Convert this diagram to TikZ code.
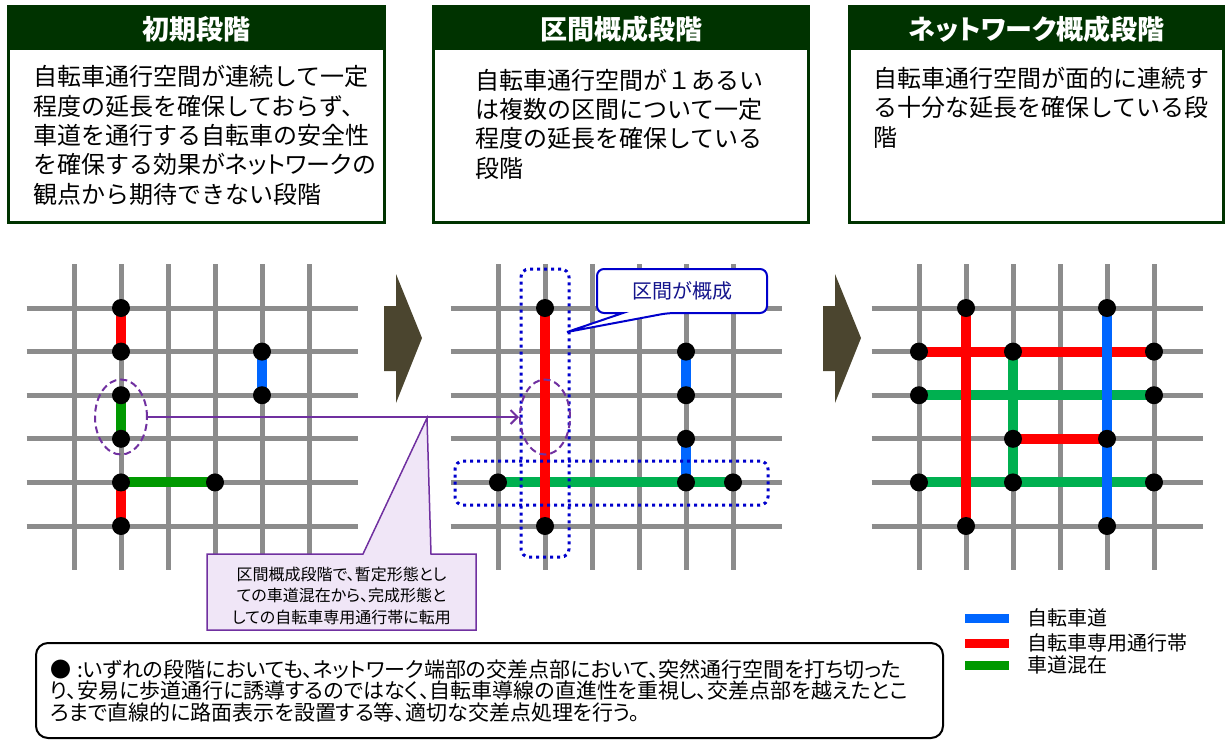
\documentclass[tikz,border=0pt]{standalone}
\usepackage{fontspec}
\setmainfont{Noto Sans CJK JP}
\usetikzlibrary{arrows.meta,shapes.geometric}
\definecolor{hdr}{RGB}{0,51,0}
\definecolor{gridgray}{RGB}{140,140,140}
\definecolor{rd}{RGB}{255,0,0}
\definecolor{bl}{RGB}{0,102,255}
\definecolor{gnA}{RGB}{0,153,0}
\definecolor{gnB}{RGB}{0,176,80}
\definecolor{pur}{RGB}{112,48,160}
\definecolor{lav}{RGB}{240,230,247}
\definecolor{dblue}{RGB}{0,0,204}
\definecolor{navytext}{RGB}{20,20,140}
\definecolor{olive}{RGB}{75,69,47}
\newcommand\pk[1]{{\addfontfeature{RawFeature=+palt}#1}}
\begin{document}
\begin{tikzpicture}[x=1pt,y=-1pt,
  gridline/.style={draw=gridgray, line width=5pt},
  seg/.style={line width=10pt},
  dot/.style={fill=black},
  titletext/.style={text=white, inner sep=0pt, font=\fontsize{27}{30}\selectfont\bfseries},
  bodytext/.style={anchor=base west, align=left, inner sep=0pt, font=\fontsize{24}{29.3}\selectfont},
  dashell/.style={ellipse, draw=pur, line width=2pt, dash pattern=on 7pt off 4pt, inner sep=0pt},
  dotbox/.style={draw=dblue, line width=3pt, dash pattern=on 3pt off 4pt, rounded corners=8pt, inner sep=0pt},
  bigarrow/.style={fill=olive},
  legtext/.style={anchor=west, inner sep=0pt, font=\fontsize{20}{22}\selectfont}
]
\useasboundingbox (0,0) rectangle (1227,740);

% ---------- stage boxes ----------
\fill[hdr] (7,5) rectangle (386,224);
\fill[white] (10,50) rectangle (383,221);
\node[titletext] (t1) at (196.5,29) {初期段階};
\node[bodytext] (b1) at (33,203) {自転車通行空間が連続して一定\\程度の延長を確保しておらず、\\車道を通行する自転車の安全性\\を確保する効果が\pk{ネットワーク}の\\観点から期待できない段階};

\fill[hdr] (432,5) rectangle (810,224);
\fill[white] (435,50) rectangle (807,221);
\node[titletext] (t2) at (621,29) {区間概成段階};
\node[bodytext] (b2) at (475,177) {自転車通行空間が１あるい\\は複数の区間について一定\\程度の延長を確保している\\段階};

\fill[hdr] (848,5) rectangle (1225,224);
\fill[white] (851,50) rectangle (1222,221);
\node[titletext] (t3) at (1036.5,29) {\pk{ネットワーク}概成段階};
\node[bodytext] (b3) at (873,146) {自転車通行空間が面的に連続す\\る十分な延長を確保している段\\階};

% ---------- grids ----------
\foreach \g/\xo in {1/74,2/498,3/919}{
  \foreach \i in {0,...,5}{
    \draw[gridline] ({\xo+47*\i},264) -- ({\xo+47*\i},570);
    \draw[gridline] ({\xo-47.5},{308+43.6*\i}) -- ({\xo+283.5},{308+43.6*\i});
    \foreach \j in {0,...,5}{
      \coordinate (g\g-\i-\j) at ({\xo+47*\i},{308+43.6*\j});
    }
  }
}

% grid 1 (initial stage)
\draw[seg, rd] (g1-1-0) -- (g1-1-1);
\draw[seg, bl] (g1-4-1) -- (g1-4-2);
\draw[seg, gnA] (g1-1-2) -- (g1-1-3);
\draw[seg, gnA] (g1-1-4) -- (g1-3-4);
\draw[seg, rd] (g1-1-4) -- (g1-1-5);
\foreach \p in {g1-1-0,g1-1-1,g1-4-1,g1-4-2,g1-1-2,g1-1-3,g1-1-4,g1-3-4,g1-1-5}
  \fill[dot] (\p) circle[radius=9pt];

% grid 2 (section stage)
\draw[seg, gnB] (g2-0-4) -- (g2-5-4);
\draw[seg, bl] (g2-4-1) -- (g2-4-2);
\draw[seg, bl] (g2-4-3) -- (g2-4-4);
\draw[seg, rd] (g2-1-0) -- (g2-1-5);
\foreach \p in {g2-1-0,g2-1-5,g2-4-1,g2-4-2,g2-4-3,g2-4-4,g2-0-4,g2-5-4}
  \fill[dot] (\p) circle[radius=9pt];

% grid 3 (network stage)
\draw[seg, gnB] (g3-0-2) -- (g3-5-2);
\draw[seg, gnB] (g3-0-4) -- (g3-5-4);
\draw[seg, gnB] (g3-2-1) -- (g3-2-4);
\draw[seg, rd] (g3-0-1) -- (g3-5-1);
\draw[seg, rd] (g3-2-3) -- (g3-4-3);
\draw[seg, rd] (g3-1-0) -- (g3-1-5);
\draw[seg, bl] (g3-4-0) -- (g3-4-5);
\foreach \p in {g3-1-0,g3-4-0,g3-0-1,g3-2-1,g3-5-1,g3-0-2,g3-5-2,g3-2-3,g3-4-3,g3-0-4,g3-2-4,g3-5-4,g3-1-5,g3-4-5}
  \fill[dot] (\p) circle[radius=9pt];

% ---------- dotted section boxes ----------
\node[dotbox, minimum width=48pt, minimum height=288pt] (dv) at (545,413) {};
\node[dotbox, minimum width=313pt, minimum height=44pt] (dh) at (611.5,483) {};

% ---------- dashed ellipses and purple arrow ----------
\node[dashell, minimum width=52pt, minimum height=75pt] (e1) at (121,417) {};
\node[dashell, minimum width=50pt, minimum height=75pt] (e2) at (545,417) {};
\draw[pur, line width=2pt, -{Straight Barb[length=7pt,width=14pt,line width=2pt]}] (e1.east) -- (e2.west);

% ---------- big arrows ----------
\fill[bigarrow] (384,306) -- (396,306) -- (396,274) -- (422,338) -- (396,403) -- (396,371) -- (384,371) -- cycle;
\fill[bigarrow] (823,306) -- (835,306) -- (835,274) -- (861,338) -- (835,403) -- (835,371) -- (823,371) -- cycle;

% ---------- purple callout ----------
\coordinate (ctip) at (427,418);
\filldraw[draw=pur, fill=lav, line width=1.5pt] (207,554) -- (363,554) -- (ctip) -- (431,554) -- (476,554) -- (476,630) -- (207,630) -- cycle;
\node[anchor=base, align=center, inner sep=0pt, font=\fontsize{16}{21.5}\selectfont\addfontfeature{RawFeature=+palt}] (c1) at (341.5,623) {区間概成段階で、暫定形態とし\\ての車道混在から、完成形態と\\しての自転車専用通行帯に転用};

% ---------- blue callout ----------
\coordinate (btip) at (567,332);
\draw[dblue, line width=2pt, fill=white, rounded corners=7pt] (597,291) -- (597,269) -- (767,269) -- (767,313) -- (668,313) [sharp corners] -- (btip) -- (623,313) [rounded corners=7pt] -- (597,313) -- cycle;
\node[inner sep=0pt, text=navytext, font=\fontsize{20}{22}\selectfont] (c2) at (682,291) {区間が概成};

% ---------- legend ----------
\fill[bl] (965,613.5) rectangle (1009,622.5);
\fill[rd] (965,638.5) rectangle (1009,647.5);
\fill[gnA] (965,660.5) rectangle (1009,669.5);
\node[legtext] (l1) at (1027,618) {自転車道};
\node[legtext] (l2) at (1027,643) {自転車専用通行帯};
\node[legtext] (l3) at (1027,665) {車道混在};

% ---------- bottom note ----------
\draw[black, line width=2pt, rounded corners=12pt] (36,643) rectangle (943,738);
\node[anchor=base west, align=left, inner sep=0pt, font=\fontsize{21}{21.5}\selectfont\addfontfeature{RawFeature=+palt}] (note) at (50,720) {●\hspace{6pt}:いずれの段階においても、ネットワーク端部の交差点部において、突然通行空間を打ち切った\\り、安易に歩道通行に誘導するのではなく、自転車導線の直進性を重視し、交差点部を越えたとこ\\ろまで直線的に路面表示を設置する等、適切な交差点処理を行う。};
\end{tikzpicture}
\end{document}
